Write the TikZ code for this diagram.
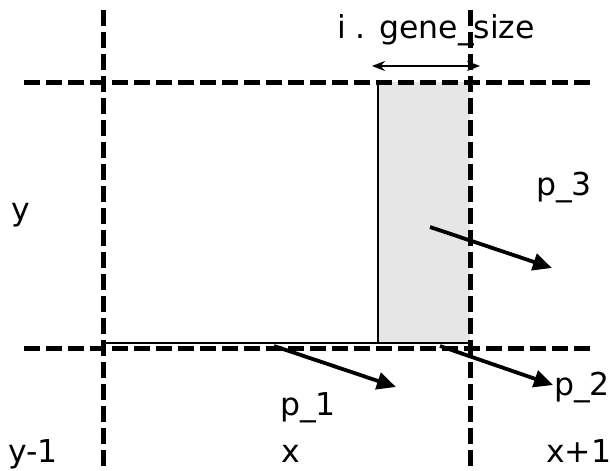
\documentclass[tikz,border=0pt]{standalone}
\usepackage{fontspec}
\setmainfont{DejaVu Sans}
\usetikzlibrary{arrows.meta}
\definecolor{genegray}{HTML}{E6E6E6}
\tikzset{
  gridline/.style={line width=5pt, dash pattern=on 16pt off 6pt},
  movearrow/.style={line width=3.8pt, -{Triangle[length=19pt,width=17pt]}},
  sizearrow/.style={line width=2.5pt, {Stealth[length=13pt,width=10pt]}-{Stealth[length=13pt,width=10pt]}},
  lbl/.style={anchor=base west, inner sep=0pt, font=\fontsize{31.5}{36}\selectfont}
}
\begin{document}
\begin{tikzpicture}[x=1pt,y=-1pt]
\useasboundingbox (0,0) rectangle (611,471);
% gene strip inside the cell
\fill[genegray] (378,82) rectangle (470,343);
\draw[line width=2.5pt] (378,82) -- (378,343);
\draw[line width=2.5pt] (103,343) -- (470,343);
% grid lines
\draw[gridline] (103,10) -- (103,471);
\draw[gridline] (470,10) -- (470,471);
\draw[gridline] (24,82) -- (590,82);
\draw[gridline] (24,348) -- (590,348);
% width of the strip
\coordinate (sizeL) at (372,66);
\coordinate (sizeR) at (480,66);
\draw[sizearrow] (sizeL) -- (sizeR);
\node[lbl] (size) at (337,38) {i . gene\_size};
% moving points
\coordinate (p3a) at (430,227);
\coordinate (p3b) at (552,268);
\coordinate (p1a) at (274,346);
\coordinate (p1b) at (396,387);
\coordinate (p2a) at (440,346);
\coordinate (p2b) at (553,385);
\draw[movearrow] (p3a) -- (p3b);
\draw[movearrow] (p1a) -- (p1b);
\draw[movearrow] (p2a) -- (p2b);
% labels
\node[lbl] (lp3) at (536,195) {p\_3};
\node[lbl] (lp1) at (280,415) {p\_1};
\node[lbl] (lp2) at (554,395) {p\_2};
\node[lbl] (ly) at (11,220) {y};
\node[lbl] (lym) at (8,462) {y-1};
\node[lbl] (lx) at (281,462) {x};
\node[lbl] (lxp) at (546,462) {x+1};
\end{tikzpicture}
\end{document}
